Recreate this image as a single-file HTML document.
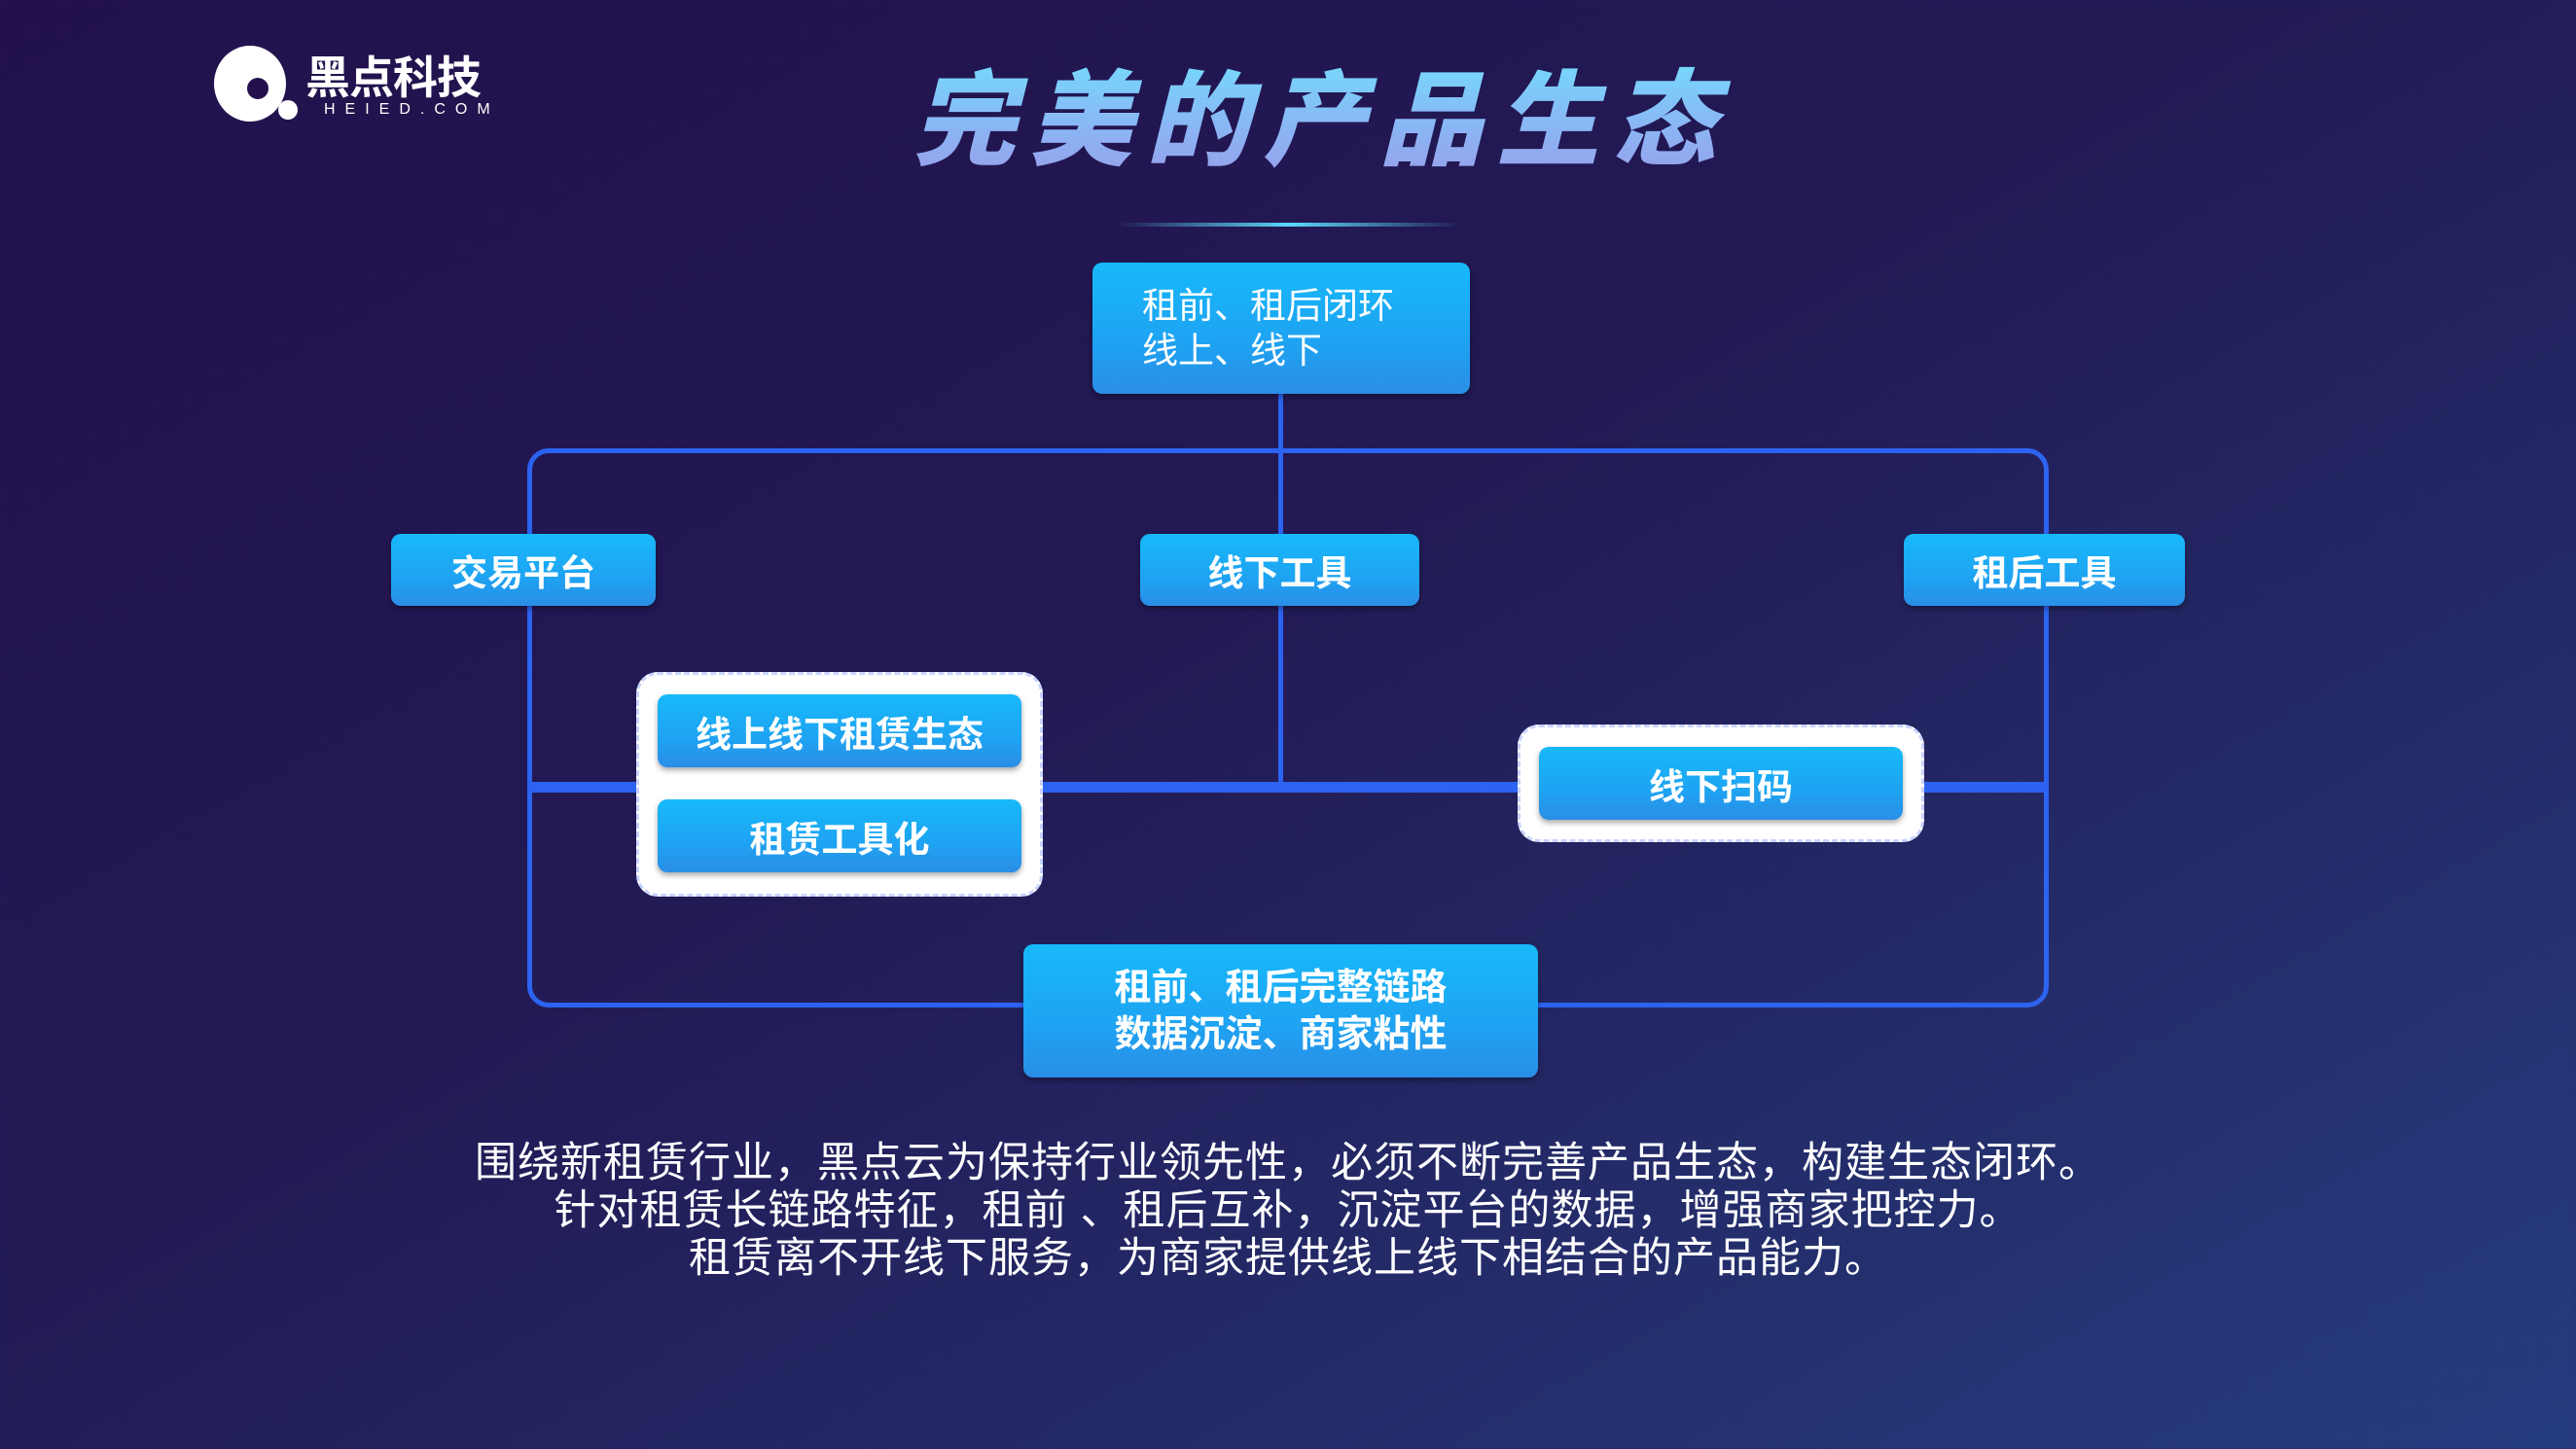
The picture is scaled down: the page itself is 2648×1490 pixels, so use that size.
<!DOCTYPE html>
<html><head><meta charset="utf-8"><style>
*{margin:0;padding:0;box-sizing:border-box}
body{width:2648px;height:1490px;overflow:hidden;position:relative;font-family:"Liberation Sans","Noto Sans CJK SC",sans-serif;
background:linear-gradient(150deg,#22114c 0%,#221a55 45%,#24306e 80%,#253c80 100%);}
.a{position:absolute}
.box{position:absolute;border-radius:10px;background:linear-gradient(180deg,#17b9f9 0%,#1ea3f2 60%,#2a8ee6 100%);color:#fff;display:flex;align-items:center;justify-content:center;font-size:37px;font-weight:bold;box-shadow:0 3px 6px rgba(0,0,0,.35)}
.ln{position:absolute;background:#2c63f0}
.wg{position:absolute;background:#fff;border-radius:22px;border:3px dashed #c9d4ff}
.t{position:absolute;left:0;width:2648px;text-align:center;color:#fff;font-size:43px;letter-spacing:1px}
</style></head><body>
<!-- logo -->
<div class="a" style="left:220px;top:47px;width:74px;height:78px;border-radius:50%;background:#fff"></div>
<div class="a" style="left:254px;top:80px;width:22px;height:22px;border-radius:50%;background:#22114c"></div>
<div class="a" style="left:286px;top:103px;width:20px;height:20px;border-radius:50%;background:#fff"></div>
<div class="a" style="left:314px;top:44px;font-size:46px;font-weight:bold;color:#fff;letter-spacing:-1px">黑点科技</div>
<div class="a" style="left:333px;top:104px;font-size:16px;color:#fff;letter-spacing:10px">HEIED.COM</div>
<!-- title -->
<div class="a" style="left:0;width:2716px;top:38px;text-align:center;font-size:106px;font-weight:900;font-style:italic;letter-spacing:14px;background:linear-gradient(180deg,#6ee6ff 0%,#8ab6f5 60%,#9a9ce8 100%);-webkit-background-clip:text;background-clip:text;color:transparent;">完美的产品生态</div>
<div class="a" style="left:1148px;top:229px;width:355px;height:4px;background:linear-gradient(90deg,rgba(80,90,200,0),#5ad8f8 50%,rgba(80,90,200,0))"></div>
<!-- lines -->
<div class="a" style="left:542px;top:461px;width:1564px;height:575px;border:5px solid #2c63f0;border-radius:22px"></div>
<div class="ln" style="left:1314px;top:405px;width:5px;height:408px"></div>
<div class="ln" style="left:544px;top:804px;width:1562px;height:11px"></div>
<!-- boxes -->
<div class="box" style="left:1123px;top:270px;width:388px;height:135px;justify-content:flex-start;padding-left:51px;font-size:37px;font-weight:normal;line-height:46px">租前、租后闭环<br>线上、线下</div>
<div class="box" style="left:402px;top:549px;width:272px;height:74px">交易平台</div>
<div class="box" style="left:1172px;top:549px;width:287px;height:74px">线下工具</div>
<div class="box" style="left:1957px;top:549px;width:289px;height:74px">租后工具</div>
<div class="wg" style="left:654px;top:691px;width:418px;height:231px"></div>
<div class="box" style="left:676px;top:714px;width:374px;height:75px">线上线下租赁生态</div>
<div class="box" style="left:676px;top:822px;width:374px;height:75px">租赁工具化</div>
<div class="wg" style="left:1560px;top:745px;width:418px;height:121px"></div>
<div class="box" style="left:1582px;top:768px;width:374px;height:75px">线下扫码</div>
<div class="box" style="left:1052px;top:971px;width:529px;height:137px;font-size:38px;line-height:48px;text-align:center">租前、租后完整链路<br>数据沉淀、商家粘性</div>
<!-- text -->
<div class="t" style="top:1161px">围绕新租赁行业，黑点云为保持行业领先性，必须不断完善产品生态，构建生态闭环。</div>
<div class="t" style="top:1210px">针对租赁长链路特征，租前 、租后互补，沉淀平台的数据，增强商家把控力。</div>
<div class="t" style="top:1259px">租赁离不开线下服务，为商家提供线上线下相结合的产品能力。</div>
</body></html>
